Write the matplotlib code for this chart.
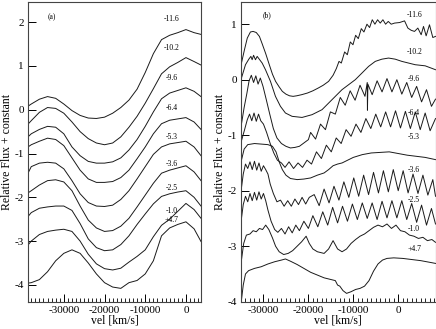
import numpy as np
import matplotlib
matplotlib.use("Agg")
import matplotlib.pyplot as plt
from matplotlib.ticker import MultipleLocator

plt.rcParams['font.family'] = ['Liberation Serif', 'DejaVu Serif']
plt.rcParams['axes.unicode_minus'] = False

# ---------------- panel (a) ----------------
a_labels = ['-11.6', '-10.2', '-9.6', '-6.4', '-5.3', '-3.6', '-2.5', '-1.0', '+4.7']
a_label_y = [2.08, 1.40, 0.72, 0.05, -0.62, -1.24, -1.78, -2.31, -2.52]
a_vel = [-38800, -38000, -36000, -34000, -32000, -30000, -28000, -26000, -24000,
         -22000, -20000, -18000, -16000, -14000, -12000, -10000, -8000, -6000,
         -4000, -2000, 0, 2000, 3700]
a_flux = [
    [0.08, 0.13, 0.24, 0.30, 0.26, 0.13, -0.02, -0.13, -0.19, -0.20, -0.17, -0.08,
     0.05, 0.22, 0.47, 0.85, 1.28, 1.60, 1.70, 1.76, 1.83, 1.76, 1.72],
    [-0.33, -0.25, -0.06, 0.05, 0.03, -0.08, -0.28, -0.50, -0.66, -0.76, -0.80, -0.76,
     -0.62, -0.40, -0.15, 0.15, 0.48, 0.82, 0.98, 1.08, 1.19, 1.10, 1.02],
    [-0.62, -0.55, -0.45, -0.38, -0.40, -0.55, -0.85, -1.05, -1.18, -1.22, -1.22, -1.19,
     -1.10, -0.92, -0.68, -0.38, -0.05, 0.25, 0.38, 0.44, 0.50, 0.42, 0.30],
    [-0.85, -0.80, -0.72, -0.65, -0.68, -0.82, -1.10, -1.38, -1.58, -1.66, -1.66, -1.64,
     -1.55, -1.38, -1.12, -0.85, -0.55, -0.32, -0.24, -0.21, -0.18, -0.28, -0.45],
    [-1.45, -1.30, -1.22, -1.20, -1.22, -1.35, -1.62, -1.92, -2.12, -2.20, -2.21, -2.18,
     -2.05, -1.85, -1.58, -1.30, -1.02, -0.85, -0.78, -0.75, -0.72, -0.85, -1.05],
    [-1.90, -1.85, -1.72, -1.62, -1.60, -1.65, -1.85, -2.20, -2.52, -2.70, -2.78, -2.76,
     -2.66, -2.48, -2.22, -1.95, -1.68, -1.45, -1.38, -1.33, -1.28, -1.42, -1.62],
    [-2.44, -2.35, -2.25, -2.22, -2.20, -2.20, -2.30, -2.60, -2.95, -3.15, -3.22, -3.20,
     -3.08, -2.88, -2.62, -2.38, -2.15, -1.98, -1.92, -1.88, -1.85, -2.00, -2.20],
    [-3.09, -3.00, -2.85, -2.78, -2.75, -2.73, -2.78, -3.00, -3.30, -3.52, -3.63, -3.66,
     -3.62, -3.48, -3.35, -3.20, -2.90, -2.64, -2.50, -2.32, -2.14, -2.28, -2.48],
    [-3.96, -3.95, -3.88, -3.70, -3.45, -3.28, -3.20, -3.28, -3.50, -3.75, -3.95, -4.05,
     -4.08, -3.95, -3.90, -3.75, -3.45, -2.88, -2.70, -2.62, -2.56, -2.72, -3.01],
]

# ---------------- panel (b) ----------------
b_labels = ['-11.6', '-10.2', '-9.6', '-6.4', '-5.3', '-3.6', '-2.5', '-1.0', '+4.7']
b_label_y = [1.17, 0.50, 0.01, -0.60, -1.03, -1.62, -2.16, -2.69, -3.05]

b1_vel = [-34900, -34200, -33600, -32900, -32300, -31600, -30900, -30300, -29500, -28700,
          -28000, -27300, -26500, -25800, -25000, -24200, -23400, -22600, -21500, -20200,
          -19000, -17800, -16700, -15500, -14500, -13780, -13180, -12670, -11930, -11330,
          -10670, -10070, -9480, -8890, -8220, -7630, -6960, -6370, -5780, -5190, -4590,
          -4000, -3410, -2810, -2220, -1560, -815, 300, 1410, 2150, 2890, 3630, 4370, 5110,
          5630, 6220, 6960, 7700, 8300]
b1_flux = [0.30, 0.55, 0.75, 0.86, 0.87, 0.85, 0.78, 0.65, 0.47, 0.27,
           0.10, -0.03, -0.13, -0.21, -0.26, -0.29, -0.30, -0.29, -0.27, -0.24,
           -0.20, -0.15, -0.10, -0.03, 0.08, 0.20, 0.33, 0.30, 0.50, 0.45,
           0.68, 0.63, 0.80, 0.74, 0.92, 0.86, 1.00, 0.94, 1.08, 1.00, 1.08,
           1.02, 1.08, 1.00, 1.05, 1.00, 1.02, 1.03, 1.06, 0.93, 0.89, 0.87, 0.93, 0.81,
           0.96, 0.79, 0.99, 0.76, 0.78]

b2_vel = [-34900, -34000, -33260, -32800, -32520, -32200, -31780, -31400, -31030, -30290,
          -29550, -28440, -27330, -26220, -25110, -23630, -21410, -19180, -16960, -15480,
          -14000, -12520, -11040, -9560, -8070, -6590, -5110, -3630, -2150, -670, 810,
          3780, 6000, 8300]
b2_flux = [0.03, 0.27, 0.37, 0.42, 0.36, 0.44, 0.36, 0.42, 0.38, 0.30,
           0.18, -0.03, -0.30, -0.48, -0.60, -0.66, -0.68, -0.63, -0.54, -0.42,
           -0.30, -0.18, -0.09, 0.00, 0.12, 0.24, 0.33, 0.37, 0.39, 0.37, 0.33,
           0.27, 0.25, 0.18]

b3_vel = [-34900, -34300, -33700, -33200, -32700, -32200, -31700, -31200, -30700, -30100,
          -29400, -28600, -27800, -27000, -26000, -25000, -24000, -23000, -22000, -21000,
          -20000, -19500, -18400, -17300, -16200, -15100, -14000, -12900, -11800, -10700,
          -9600, -8500, -7400, -6900, -6850, -6750, -5800, -4700, -3600, -2500, -1400,
          -300, 800, 1900, 3000, 4100, 5200, 6300, 7400, 8300]
b3_flux = [-0.80, -0.50, -0.25, -0.02, 0.08, -0.05, 0.07, -0.08, 0.03, -0.12,
           -0.35, -0.62, -0.88, -1.05, -1.15, -1.20, -1.23, -1.22, -1.20, -1.14,
           -1.08, -0.95, -1.07, -0.80, -0.90, -0.58, -0.62, -0.32, -0.46, -0.20,
           -0.37, -0.10, -0.30, -0.05, -0.55, -0.08, -0.27, -0.02, -0.22, 0.02, -0.22,
           0.00, -0.26, -0.05, -0.32, -0.12, -0.40, -0.18, -0.48, -0.35]

b4_vel = [-34900, -34200, -33600, -33100, -32600, -32100, -31600, -31100, -30600, -30000,
          -29300, -28500, -27700, -26900, -26000, -25200, -24300, -23300, -22300, -21300,
          -20300, -19300, -18200, -17100, -16000, -14900, -13800, -12700, -11600, -10500,
          -9400, -8300, -7200, -6100, -5000, -3900, -2800, -1700, -600, 500, 1600, 2700,
          3800, 4900, 6000, 7100, 8300]
b4_flux = [-1.10, -0.90, -0.72, -0.62, -0.74, -0.60, -0.75, -0.62, -0.74, -0.80,
           -0.95, -1.15, -1.32, -1.45, -1.50, -1.58, -1.48, -1.60, -1.50, -1.58,
           -1.45, -1.52, -1.30, -1.42, -1.18, -1.30, -1.05, -1.15, -0.90, -1.02,
           -0.80, -0.95, -0.70, -0.88, -0.62, -0.85, -0.58, -0.85, -0.56, -0.87, -0.57, -0.88,
           -0.58, -0.90, -0.60, -0.92, -0.70]

b5_vel = [-34900, -34300, -33500, -32000, -30500, -29000, -28000, -27200, -26500, -25800,
          -25000, -24000, -22500, -21000, -19500, -18000, -16500, -15500, -14500, -13500,
          -12500, -11500, -10000, -8000, -6000, -4000, -2000, 0, 2000, 4000, 6000, 8300]
b5_flux = [-1.45, -1.25, -1.17, -1.15, -1.16, -1.17, -1.20, -1.30, -1.48, -1.62,
           -1.72, -1.78, -1.80, -1.79, -1.77, -1.72, -1.68, -1.62, -1.55, -1.52,
           -1.50, -1.46, -1.40, -1.35, -1.32, -1.31, -1.30, -1.33, -1.36, -1.38, -1.40, -1.44]

b6_vel = [-34900, -34500, -34000, -33500, -33000, -32500, -32000, -31500, -31000, -30500,
          -30000, -29500, -29000, -28500, -27800, -27000, -26200, -25400, -24600, -23800,
          -23000, -22200, -21400, -20600, -19800, -18700, -17600, -16500, -15400, -14300,
          -13200, -12100, -11000, -9900, -8800, -7700, -6600, -5500, -4400, -3300, -2200,
          -1100, 0, 1100, 2200, 3300, 4400, 5500, 6600, 7700, 8300]
b6_flux = [-1.95, -1.70, -1.52, -1.60, -1.48, -1.62, -1.47, -1.63, -1.50, -1.65,
           -1.55, -1.62, -1.70, -1.88, -2.05, -2.20, -2.17, -2.28, -2.18, -2.28,
           -2.15, -2.25, -2.12, -2.24, -2.12, -2.07, -2.27, -1.97, -2.22, -1.92,
           -2.17, -1.84, -2.12, -1.77, -2.10, -1.72, -2.07, -1.67, -2.04, -1.64, -2.02,
           -1.62, -2.00, -1.64, -2.04, -1.70, -2.05, -1.72, -2.08, -1.80, -2.10]

b7_vel = [-34900, -34500, -34000, -33500, -33000, -32500, -32000, -31500, -31000, -30500,
          -30000, -29500, -29000, -28300, -27500, -26800, -26000, -25200, -24400, -23600,
          -22800, -22000, -21000, -20000, -19000, -17900, -16800, -15700, -14600, -13500,
          -12400, -11300, -10200, -9100, -8000, -6900, -5800, -4700, -3600, -2500, -1400,
          -300, 800, 1900, 3000, 4100, 5200, 6300, 7400, 8300]
b7_flux = [-2.50, -2.25, -2.10, -2.20, -2.05, -2.18, -2.03, -2.17, -2.02, -2.15,
           -2.05, -2.18, -2.35, -2.55, -2.70, -2.75, -2.68, -2.78, -2.65, -2.76,
           -2.62, -2.72, -2.55, -2.68, -2.45, -2.65, -2.38, -2.62, -2.30, -2.58,
           -2.28, -2.55, -2.24, -2.52, -2.22, -2.50, -2.22, -2.52, -2.19, -2.49, -2.18,
           -2.49, -2.18, -2.52, -2.23, -2.57, -2.26, -2.62, -2.32, -2.60]

b8_vel = [-34900, -34400, -33800, -33000, -32300, -31600, -30900, -30200, -29500, -28800,
          -28000, -27300, -26500, -25500, -24500, -23500, -22500, -21500, -20500, -19800,
          -19000, -18000, -16500, -15500, -14500, -13500, -12500, -11500, -10500, -9500,
          -8500, -7500, -6500, -5500, -4500, -3500, -2500, -1500, -500, 500, 1500, 2500,
          3500, 4500, 5500, 6500, 7500, 8300]
b8_flux = [-3.25, -2.95, -2.80, -2.78, -2.72, -2.74, -2.68, -2.70, -2.62, -2.70,
           -2.85, -3.00, -3.10, -3.15, -3.13, -3.08, -3.00, -2.92, -2.82, -2.95,
           -3.05, -3.10, -3.13, -3.05, -2.90, -3.05, -3.10, -3.05, -2.95, -2.88,
           -2.82, -2.78, -2.72, -2.66, -2.62, -2.65, -2.60, -2.68, -2.62, -2.72, -2.74, -2.80,
           -2.82, -2.86, -2.84, -2.90, -2.88, -2.93]

b9_vel = [-34900, -34500, -34000, -33300, -32000, -30500, -29000, -27500, -26000, -25100,
          -24000, -22500, -21000, -19500, -18000, -16500, -15000, -14000, -13500, -13000,
          -12300, -11500, -10500, -9500, -8500, -7500, -6500, -5500, -4500, -3500, -2500,
          -1000, 1000, 3000, 5000, 7000, 8300]
b9_flux = [-3.97, -3.70, -3.50, -3.44, -3.40, -3.37, -3.32, -3.28, -3.25, -3.23,
           -3.27, -3.33, -3.40, -3.47, -3.52, -3.57, -3.60, -3.62, -3.70, -3.72,
           -3.80, -3.85, -3.82, -3.78, -3.76, -3.72, -3.62, -3.45, -3.32, -3.25, -3.22,
           -3.21, -3.22, -3.24, -3.26, -3.29, -3.31]

b_vel = [b1_vel, b2_vel, b3_vel, b4_vel, b5_vel, b6_vel, b7_vel, b8_vel, b9_vel]
b_flux = [b1_flux, b2_flux, b3_flux, b4_flux, b5_flux, b6_flux, b7_flux, b8_flux, b9_flux]

fig = plt.figure(figsize=(4.36, 3.29), dpi=100)
ax1 = fig.add_axes([28 / 436, 1 - 301.5 / 329, 173 / 436, 299.5 / 329])
ax2 = fig.add_axes([241 / 436, 1 - 301.7 / 329, 194.5 / 436, 299.7 / 329])

for f in a_flux:
    ax1.plot(a_vel, f, color='#1a1a1a', lw=0.7)
for v, f in zip(b_vel, b_flux):
    ax2.plot(v, f, color='#1a1a1a', lw=0.7)

for lab, y in zip(a_labels, a_label_y):
    ax1.text(-3500, y, lab, fontsize=5.5, ha='center', va='center')
for lab, y in zip(b_labels, b_label_y):
    ax2.text(3550, y, lab, fontsize=5.5, ha='center', va='center')
ax1.text(-32850, 2.11, '(a)', fontsize=5.5, ha='center', va='center')
ax2.text(-29200, 1.17, '(b)', fontsize=5.5, ha='center', va='center')

ax1.set_xlim(-38800, 3700)
ax1.set_ylim(-4.38, 2.46)
ax2.set_xlim(-35000, 8300)
ax2.set_ylim(-4.0, 1.40)

for ax in (ax1, ax2):
    ax.xaxis.set_major_locator(MultipleLocator(10000))
    ax.xaxis.set_minor_locator(MultipleLocator(1000))
    ax.yaxis.set_major_locator(MultipleLocator(1))
    ax.tick_params(axis='both', which='major', direction='in', length=6, width=0.7,
                   labelsize=8, pad=3)
    ax.tick_params(axis='x', which='minor', direction='in', length=3, width=0.6)
    for s in ax.spines.values():
        s.set_linewidth(0.8)
        s.set_color('#444444')
    ax.set_xlabel('vel [km/s]', fontsize=8.5, labelpad=0)
    ax.set_ylabel('Relative Flux + constant', fontsize=8.5, labelpad=1)

fig.savefig('out.png', dpi=100)
